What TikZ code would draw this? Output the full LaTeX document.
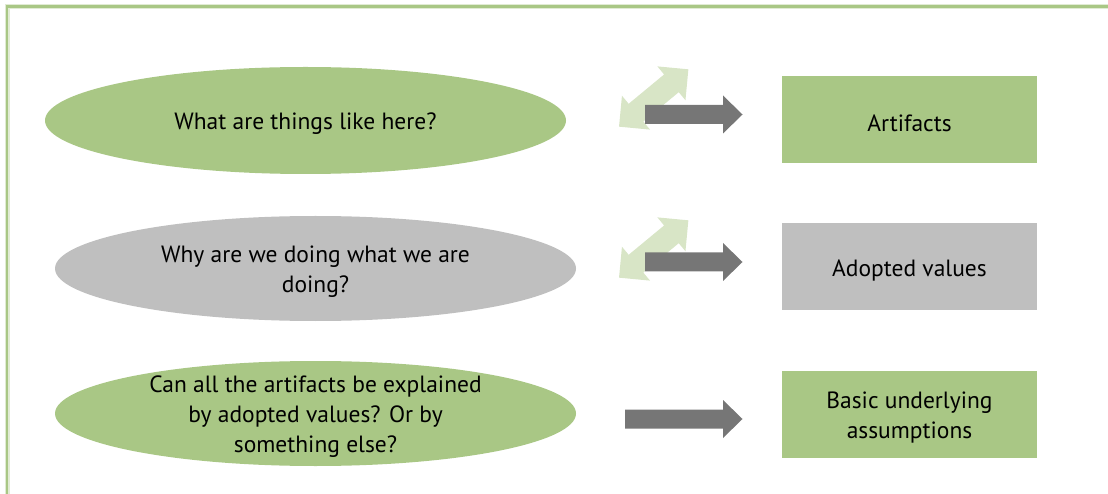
\documentclass[tikz,border=0pt]{standalone}
\usepackage{fontspec}
\setmainfont{PT Sans}
\usetikzlibrary{shapes.geometric}
\definecolor{lgreen}{HTML}{A9C785}
\definecolor{pgreen}{HTML}{D8E5C6}
\definecolor{fgreen}{HTML}{E1EBD4}
\definecolor{lgrey}{HTML}{BFBFBF}
\definecolor{dgrey}{HTML}{767676}
\tikzset{
  oval/.style={ellipse, minimum width=521pt, minimum height=105pt, inner sep=0pt},
  card/.style={rectangle, minimum width=255pt, minimum height=87pt, inner sep=0pt},
  txt/.style={align=center, font=\fontsize{23.5}{30}\selectfont, text=black, yshift=-3.5pt},
  darrow/.style={fill=dgrey},
  larrow/.style={fill=pgreen},
}
\begin{document}
\begin{tikzpicture}[x=1pt,y=-1pt]
\useasboundingbox (0,0) rectangle (1108,494);
\begin{scope}
\clip (0,0) rectangle (1108,494);
\draw[fgreen, line width=5pt] (7,6.5) rectangle (1130,520);
\draw[lgreen, line width=2.6pt] (7,6.5) rectangle (1130,520);
\end{scope}
% ellipses
\node[oval, fill=lgreen, minimum height=107pt] (e1) at (305.5,120.5) {};
\node[oval, fill=lgrey] (e2) at (315.5,268.5) {};
\node[oval, fill=lgreen] (e3) at (315.5,413.5) {};
\node[txt] (t1) at (e1) {What are things like here?};
\node[txt] (t2) at (e2) {Why are we doing what we are\\doing?};
\node[txt] (t3) at (e3) {Can all the artifacts be explained\\by adopted values? Or by\\something else?};
% boxes
\node[card, fill=lgreen] (b1) at (909.5,119.5) {};
\node[card, fill=lgrey] (b2) at (909.5,266.5) {};
\node[card, fill=lgreen] (b3) at (909.5,414) {};
\node[txt] (u1) at (b1) {Artifacts};
\node[txt] (u2) at (b2) {Adopted values};
\node[txt] (u3) at (b3) {Basic underlying\\assumptions};
% light double arrows
\foreach \cy/\nm in {98/la1, 249/la2}{
  \begin{scope}[shift={(653.7,\cy)}, rotate=39.6]
    \fill[larrow] (-45,0) -- (-23,-22) -- (-23,-11.5) -- (23,-11.5) -- (23,-22) -- (45,0) -- (23,22) -- (23,11.5) -- (-23,11.5) -- (-23,22) -- cycle;
    \coordinate (\nm) at (0,0);
  \end{scope}
}
% dark arrows
\foreach \tx/\cy/\nm in {645/114.5/da1, 645/262/da2, 625/419/da3}{
  \fill[darrow] (\tx,\cy-9.5) -- (723,\cy-9.5) -- (723,\cy-19) -- (742.5,\cy) -- (723,\cy+19) -- (723,\cy+9.5) -- (\tx,\cy+9.5) -- cycle;
}
\end{tikzpicture}
\end{document}
